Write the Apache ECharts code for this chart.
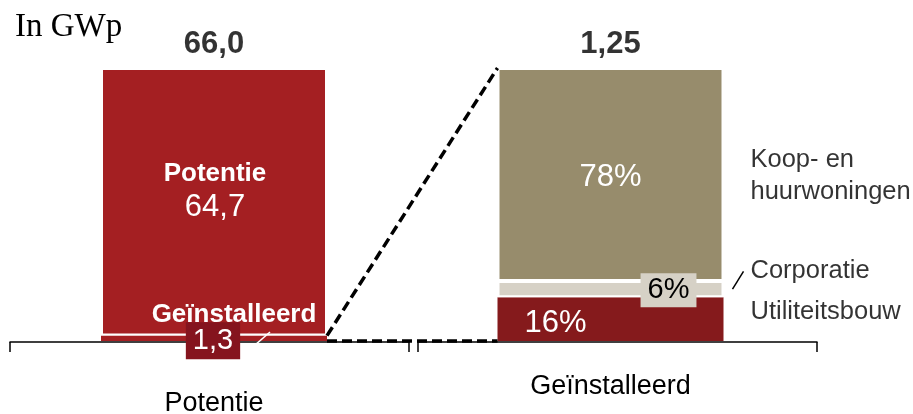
<!DOCTYPE html>
<html>
<head>
<meta charset="utf-8">
<script src="https://cdn.jsdelivr.net/npm/echarts@6/dist/echarts.min.js"></script>
<style>
html, body { margin: 0; padding: 0; background: #fff; }
#chart { width: 913px; height: 414px; }
</style>
</head>
<body>
<div id="chart"></div>
<script>
// categorieën en waarden (GWp)
const categories = ['Potentie', 'Geïnstalleerd'];
const installed = 1.3;
const potential = 64.7;
const totals = [66.0, 1.25];
const totalDecimals = [1, 2];
// verdeling geïnstalleerd vermogen (%), van onder naar boven
const segmentNames = ['Utiliteitsbouw', 'Corporatie', 'Koop- en\nhuurwoningen'];
const segmentShares = [16, 6, 78];
const segmentColors = ['#851a1c', '#d6d1c6', '#978c6c'];

const fmt = (v, d) => (d == null ? String(v) : v.toFixed(d)).replace('.', ',');

const chart = echarts.init(document.getElementById('chart'));
const sans = '"Liberation Sans", Arial, sans-serif';
// grid voor de staven
const barGridL = 15.75, barGridW = 793;
const barW = 226;
const ppu = barGridW / 2;          // pixels per eenheid op verborgen waarde-as
const hw = barW / 2 / ppu;         // halve staafbreedte in eenheden

// midden van elk segment (%)
const mids = [];
let acc = 0;
segmentShares.forEach(s => { mids.push(acc + s / 2); acc += s; });

const barBase = { type: 'bar', barWidth: barW, barGap: '-100%', xAxisIndex: 0 };
const sep = { borderColor: '#fff', borderWidth: 2 };

const segLabels = [
  { offset: [-55, 4], color: '#fff', fontSize: 31 },
  { offset: [58, 1], color: '#000', fontSize: 29, backgroundColor: '#d6d1c6', padding: [3, 7, 2, 7] },
  { offset: [0, 3], color: '#fff', fontSize: 31 }
];
const sideOffsets = [-7, -18, 1];

const rightSeries = segmentShares.map((s, i) => Object.assign({}, barBase, {
  name: segmentNames[i],
  yAxisIndex: 1,
  stack: 'R',
  data: ['-', s],
  itemStyle: Object.assign({ color: segmentColors[i] }, i > 0 ? sep : {}),
  label: Object.assign({ show: true, position: 'inside', fontFamily: sans, formatter: s + '%' }, segLabels[i])
}));

const axisOnly = {
  type: 'category',
  axisLine: { lineStyle: { color: '#000', width: 1.5 } },
  axisTick: { show: true, length: 10, lineStyle: { color: '#000', width: 1.5 } },
  axisLabel: { show: false }
};

const option = {
  animation: false,
  title: {
    text: 'In GWp',
    left: 10,
    top: 6,
    textStyle: { fontFamily: '"Liberation Serif", serif', fontSize: 33, fontWeight: 'normal', color: '#000' }
  },
  grid: [
    { left: barGridL, width: barGridW, top: 68, bottom: 73, outerBoundsMode: 'none' },
    { left: 10, width: 399, top: 68, bottom: 72, outerBoundsMode: 'none' },
    { left: 418, width: 399, top: 68, bottom: 72, outerBoundsMode: 'none' }
  ],
  xAxis: [
    {
      type: 'category',
      gridIndex: 0,
      data: categories,
      axisLine: { show: false },
      axisTick: { show: false },
      axisLabel: {
        interval: 0,
        margin: 0,
        formatter: (v, i) => (i === 0 ? '{lo|' : '{hi|') + v + '}',
        rich: {
          lo: { fontSize: 27, fontFamily: sans, color: '#000', padding: [49, 0, 0, 0] },
          hi: { fontSize: 27, fontFamily: sans, color: '#000', padding: [32, 0, 0, 0] }
        }
      }
    },
    { type: 'value', gridIndex: 0, min: 0, max: 2, show: false },
    Object.assign({ gridIndex: 1, data: [categories[0]] }, axisOnly),
    Object.assign({ gridIndex: 2, data: [categories[1]] }, axisOnly)
  ],
  yAxis: [
    { type: 'value', gridIndex: 0, min: 0, max: totals[0], show: false },
    { type: 'value', gridIndex: 0, min: 0, max: 100, show: false },
    { type: 'value', gridIndex: 1, show: false },
    { type: 'value', gridIndex: 2, show: false }
  ],
  series: [
    Object.assign({}, barBase, {
      name: categories[1],
      yAxisIndex: 0,
      stack: 'L',
      data: [installed, '-'],
      itemStyle: { color: '#a41f22' },
      label: {
        show: true,
        position: 'inside',
        offset: [-1, -9],
        formatter: '{g|' + categories[1] + '}\n{v|' + fmt(installed) + '}',
        rich: {
          g: { color: '#fff', fontFamily: sans, fontWeight: 'bold', fontSize: 26, lineHeight: 23, padding: [0, 0, 0, 42] },
          v: { color: '#fff', fontFamily: sans, fontSize: 29, lineHeight: 29, backgroundColor: '#85141e', padding: [4, 7, 4, 7] }
        }
      }
    }),
    Object.assign({}, barBase, {
      name: categories[0],
      yAxisIndex: 0,
      stack: 'L',
      data: [potential, '-'],
      itemStyle: Object.assign({ color: '#a41f22' }, sep),
      label: {
        show: true,
        position: 'inside',
        offset: [1, -11],
        formatter: '{b|' + categories[0] + '}\n{n|' + fmt(potential) + '}',
        rich: {
          b: { color: '#fff', fontFamily: sans, fontWeight: 'bold', fontSize: 26, lineHeight: 33 },
          n: { color: '#fff', fontFamily: sans, fontSize: 31, lineHeight: 33 }
        }
      }
    })
  ].concat(rightSeries).concat([
    // totalen boven de staven
    {
      type: 'scatter', xAxisIndex: 0, yAxisIndex: 0, symbolSize: 0,
      data: [[0, totals[0]]],
      label: { show: true, position: 'top', distance: 8, formatter: fmt(totals[0], totalDecimals[0]),
        fontFamily: sans, fontWeight: 'bold', fontSize: 31, color: '#000' }
    },
    {
      type: 'scatter', xAxisIndex: 0, yAxisIndex: 1, symbolSize: 0,
      data: [[1, 100]],
      label: { show: true, position: 'top', distance: 8, formatter: fmt(totals[1], totalDecimals[1]),
        fontFamily: sans, fontWeight: 'bold', fontSize: 31, color: '#000' }
    },
    // segmentnamen rechts van de staaf
    {
      type: 'scatter', xAxisIndex: 1, yAxisIndex: 1, symbolSize: 0,
      data: mids.map((m, i) => ({
        value: [1.5 + hw, m],
        name: segmentNames[i],
        label: { offset: [0, sideOffsets[i]] }
      })),
      label: { show: true, position: 'right', distance: 27, formatter: '{b}', align: 'left',
        fontFamily: sans, fontSize: 25.5, lineHeight: 32, color: '#000' }
    },
    // stippellijnen tussen de staven
    {
      type: 'line', xAxisIndex: 1, yAxisIndex: 1, symbol: 'none', clip: false, silent: true, z: 5,
      data: [[0.5 + hw, installed / totals[0] * 100], [1.5 - hw, 100]],
      lineStyle: { color: '#000', width: 3.5, type: [10, 5] }
    },
    {
      type: 'line', xAxisIndex: 1, yAxisIndex: 1, symbol: 'none', clip: false, silent: true, z: 5,
      data: [[0.5 + hw, 0], [1.5 - hw, 0]],
      lineStyle: { color: '#000', width: 3.5, type: [10, 5] }
    },
    // verwijslijntjes
    {
      type: 'line', xAxisIndex: 1, yAxisIndex: 1, symbol: 'none', clip: false, silent: true,
      data: [[1.5 + hw + 9 / ppu, mids[1]], [1.5 + hw + 20 / ppu, mids[1] + 6.5]],
      lineStyle: { color: '#000', width: 1.5 }
    },
    {
      type: 'line', xAxisIndex: 1, yAxisIndex: 1, symbol: 'none', clip: false, silent: true, z: 4,
      data: [[0.5 + 56 / ppu, 3.3], [0.5 + 30 / ppu, -5]],
      lineStyle: { color: '#fff', width: 1.5 }
    }
  ])
};

chart.setOption(option);
window.addEventListener('resize', () => chart.resize());
</script>
</body>
</html>
